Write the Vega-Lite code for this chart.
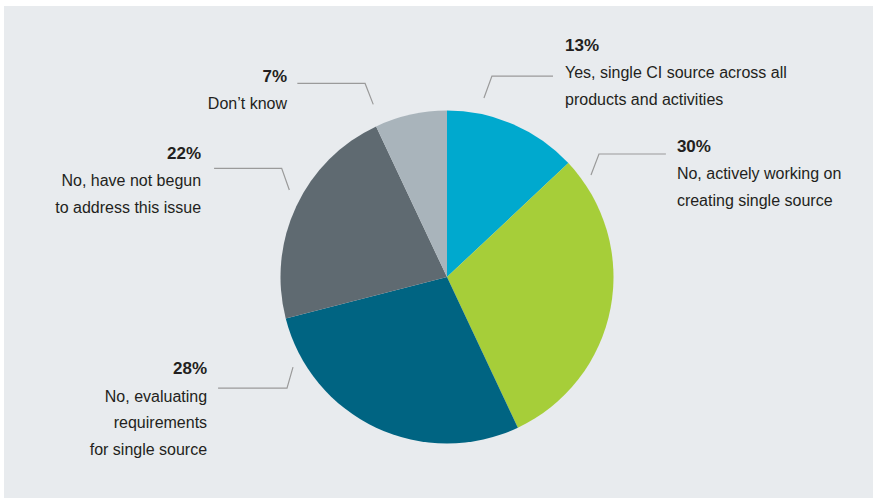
{
  "$schema": "https://vega.github.io/schema/vega-lite/v6.json",
  "width": 869,
  "height": 492,
  "autosize": {"type": "none"},
  "padding": {"left": 4, "top": 6, "right": 0, "bottom": 0},
  "background": "#ffffff",
  "config": {
    "view": {"fill": "#e8ebee", "stroke": null},
    "text": {"font": "Liberation Sans Narrow, Arial Narrow, Liberation Sans, sans-serif", "color": "#231f20"}
  },
  "datasets": {
    "answers": [
      {"answer": "Yes, single CI source across all products and activities", "share": 13, "order": 1},
      {"answer": "No, actively working on creating single source", "share": 30, "order": 2},
      {"answer": "No, evaluating requirements for single source", "share": 28, "order": 3},
      {"answer": "No, have not begun to address this issue", "share": 22, "order": 4},
      {"answer": "Don't know", "share": 7, "order": 5}
    ],
    "notes": [
      {"pct": "13%", "text": "Yes, single CI source across all\nproducts and activities", "x": 70.9, "y": 138.9},
      {"pct": "30%", "text": "No, actively working on\ncreating single source", "x": 138.1, "y": 78.4},
      {"pct": "28%", "text": "No, evaluating\nrequirements\nfor single source", "x": -144.1, "y": -55.3},
      {"pct": "22%", "text": "No, have not begun\nto address this issue", "x": -147.7, "y": 74.1},
      {"pct": "7%", "text": "Don’t know", "x": -96.1, "y": 120.3}
    ],
    "leaders": [
      {"note": "13%", "step": 1, "x": 22.2, "y": 107.5},
      {"note": "13%", "step": 2, "x": 27.0, "y": 120.7},
      {"note": "13%", "step": 3, "x": 63.7, "y": 120.7},
      {"note": "30%", "step": 1, "x": 86.5, "y": 61.3},
      {"note": "30%", "step": 2, "x": 91.3, "y": 73.9},
      {"note": "30%", "step": 3, "x": 131.5, "y": 73.9},
      {"note": "28%", "step": 1, "x": -137.5, "y": -66.7},
      {"note": "28%", "step": 2, "x": -96.1, "y": -66.7},
      {"note": "28%", "step": 3, "x": -92.5, "y": -54.1},
      {"note": "22%", "step": 1, "x": -139.9, "y": 65.3},
      {"note": "22%", "step": 2, "x": -99.3, "y": 65.3},
      {"note": "22%", "step": 3, "x": -94.7, "y": 52.3},
      {"note": "7%", "step": 1, "x": -89.9, "y": 116.3},
      {"note": "7%", "step": 2, "x": -49.2, "y": 116.3},
      {"note": "7%", "step": 3, "x": -44.3, "y": 103.7}
    ]
  },
  "layer": [
    {
      "data": {"name": "answers"},
      "mark": {"type": "arc", "outerRadius": 166.5},
      "encoding": {
        "theta": {"field": "share", "type": "quantitative", "stack": true},
        "order": {"field": "order", "type": "quantitative"},
        "x": {"datum": 0, "type": "quantitative", "scale": {"domain": [-266.1, 255.9], "nice": false, "zero": false}, "axis": null},
        "y": {"datum": 0, "type": "quantitative", "scale": {"domain": [-132.7, 162.8], "nice": false, "zero": false}, "axis": null},
        "color": {
          "field": "answer",
          "type": "nominal",
          "scale": {
            "domain": ["Yes, single CI source across all products and activities", "No, actively working on creating single source", "No, evaluating requirements for single source", "No, have not begun to address this issue", "Don't know"],
            "range": ["#00a9ce", "#a6ce39", "#006482", "#5f6a71", "#a9b4bb"]
          },
          "legend": null
        }
      }
    },
    {
      "data": {"name": "leaders"},
      "mark": {"type": "line", "color": "#9a9a9a", "strokeWidth": 1.2},
      "encoding": {
        "x": {"field": "x", "type": "quantitative", "axis": null},
        "y": {"field": "y", "type": "quantitative", "axis": null},
        "detail": {"field": "note"},
        "order": {"field": "step", "type": "quantitative"}
      }
    },
    {
      "data": {"name": "notes"},
      "transform": [{"filter": "datum.x > 0"}],
      "layer": [
        {
          "mark": {"type": "text", "align": "left", "baseline": "middle", "fontSize": 17, "fontWeight": "bold"},
          "encoding": {
            "x": {"field": "x", "type": "quantitative", "axis": null},
            "y": {"field": "y", "type": "quantitative", "axis": null},
            "text": {"field": "pct"}
          }
        },
        {
          "mark": {"type": "text", "align": "left", "baseline": "alphabetic", "fontSize": 16, "dy": 32.7, "lineBreak": "\n", "lineHeight": 26.5},
          "encoding": {
            "x": {"field": "x", "type": "quantitative", "axis": null},
            "y": {"field": "y", "type": "quantitative", "axis": null},
            "text": {"field": "text"}
          }
        }
      ]
    },
    {
      "data": {"name": "notes"},
      "transform": [{"filter": "datum.x < 0"}],
      "layer": [
        {
          "mark": {"type": "text", "align": "right", "baseline": "middle", "fontSize": 17, "fontWeight": "bold"},
          "encoding": {
            "x": {"field": "x", "type": "quantitative", "axis": null},
            "y": {"field": "y", "type": "quantitative", "axis": null},
            "text": {"field": "pct"}
          }
        },
        {
          "mark": {"type": "text", "align": "right", "baseline": "alphabetic", "fontSize": 16, "dy": 32.7, "lineBreak": "\n", "lineHeight": 26.5},
          "encoding": {
            "x": {"field": "x", "type": "quantitative", "axis": null},
            "y": {"field": "y", "type": "quantitative", "axis": null},
            "text": {"field": "text"}
          }
        }
      ]
    }
  ]
}
